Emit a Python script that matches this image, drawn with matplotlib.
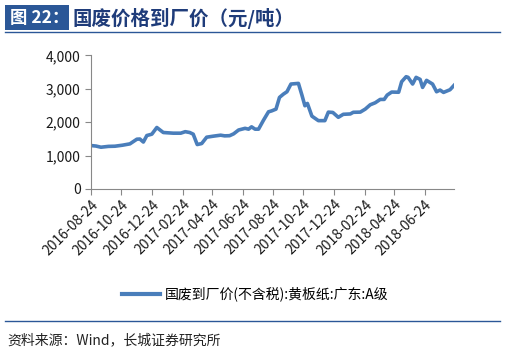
import matplotlib
matplotlib.use("Agg")
import matplotlib.pyplot as plt
import pandas as pd

plt.rcParams['font.family'] = ['Noto Sans CJK SC', 'DejaVu Sans']

# 国废到厂价(不含税):黄板纸:广东:A级, 元/吨
dates = ["2016-08-24", "2016-09-03", "2016-09-13", "2016-09-28", "2016-10-11",
         "2016-10-26", "2016-11-10", "2016-11-24", "2016-11-30", "2016-12-07",
         "2016-12-14", "2016-12-24", "2017-01-03", "2017-01-16", "2017-02-05",
         "2017-02-20", "2017-03-01", "2017-03-10", "2017-03-17", "2017-03-25",
         "2017-04-03", "2017-04-13", "2017-04-26", "2017-05-11", "2017-05-19",
         "2017-05-29", "2017-06-06", "2017-06-16", "2017-06-29", "2017-07-06",
         "2017-07-12", "2017-07-19", "2017-07-26", "2017-08-05", "2017-08-15",
         "2017-08-21", "2017-08-30", "2017-09-06", "2017-09-14", "2017-09-21",
         "2017-09-29", "2017-10-14", "2017-10-21", "2017-10-27", "2017-11-01",
         "2017-11-10", "2017-11-23", "2017-12-06", "2017-12-13", "2017-12-22",
         "2018-01-02", "2018-01-12", "2018-01-26", "2018-02-01", "2018-02-15",
         "2018-02-25", "2018-03-07", "2018-03-17", "2018-03-27", "2018-04-04",
         "2018-04-10", "2018-04-19", "2018-05-03", "2018-05-09", "2018-05-18",
         "2018-05-22", "2018-05-31", "2018-06-07", "2018-06-15", "2018-06-20",
         "2018-06-28", "2018-07-10", "2018-07-18", "2018-07-25", "2018-08-01",
         "2018-08-14", "2018-08-22"]
prices = [1300, 1285, 1250, 1275, 1280,
          1310, 1350, 1490, 1495, 1405,
          1600, 1640, 1840, 1690, 1670,
          1670, 1715, 1690, 1640, 1330,
          1360, 1550, 1580, 1610, 1590,
          1595, 1650, 1765, 1815, 1790,
          1860, 1790, 1790, 2060, 2310,
          2335, 2390, 2740, 2840, 2910,
          3140, 3160, 2810, 2490, 2560,
          2180, 2045, 2045, 2300, 2290,
          2145, 2235, 2245, 2295, 2300,
          2390, 2520, 2580, 2680, 2680,
          2810, 2900, 2895, 3210, 3360,
          3340, 3140, 3340, 3280, 3040,
          3250, 3140, 2910, 2960, 2890,
          2970, 3100]
tick_dates = ["2016-08-24", "2016-10-24", "2016-12-24", "2017-02-24",
              "2017-04-24", "2017-06-24", "2017-08-24", "2017-10-24",
              "2017-12-24", "2018-02-24", "2018-04-24", "2018-06-24"]

title_tag = "图 22："
title_text = "国废价格到厂价（元/吨）"
series_name = "国废到厂价(不含税):黄板纸:广东:A级"
source_text = "资料来源：Wind，长城证券研究所"

x = pd.to_datetime(dates)
ticks = pd.to_datetime(tick_dates)

W, H = 508, 358
fig = plt.figure(figsize=(W / 100, H / 100), dpi=100)
ax = fig.add_axes([91 / W, 1 - 189 / H, (454 - 91) / W, (189 - 55.3) / H])

line_color = "#4A7EBB"
ax.plot(x, prices, color=line_color, lw=2.6, label=series_name, solid_joinstyle="round")

ax.set_ylim(0, 4000)
ax.set_yticks([0, 1000, 2000, 3000, 4000])
ax.set_yticklabels(["0", "1,000", "2,000", "3,000", "4,000"])
ax.set_xlim(x[0], x[-1])
ax.set_xticks(ticks)
ax.set_xticklabels(tick_dates, rotation=45, ha="right", rotation_mode="anchor")

for s in ["top", "right"]:
    ax.spines[s].set_visible(False)
for s in ["left", "bottom"]:
    ax.spines[s].set_color("#888888")
    ax.spines[s].set_linewidth(0.8)
ax.tick_params(axis="both", colors="#888888", labelcolor="#1a1a1a", labelsize=10, length=4, width=0.8)
ax.tick_params(axis="x", labelsize=10, pad=2)

leg = fig.legend(loc="center", bbox_to_anchor=(255 / W, 1 - 294 / H), frameon=False,
                 fontsize=10, handlelength=2.7, handletextpad=0.35)
leg.get_lines()[0].set_linewidth(3)

# header: blue tag box, title, rule
fig.add_artist(plt.Rectangle((5 / W, 1 - 30 / H), 64 / W, 25 / H, transform=fig.transFigure,
                             facecolor="#2B5797", edgecolor="none"))
fig.text(10 / W, 1 - 18 / H, title_tag, fontsize=12.5, fontweight="bold", color="white",
         va="center", ha="left")
fig.text(72 / W, 1 - 18 / H, title_text, fontsize=14, fontweight="bold", color="#1F3C7A",
         va="center", ha="left")
fig.add_artist(plt.Line2D([5 / W, 500 / W], [1 - 32 / H] * 2, color="#2B5797", lw=1))

# footer
fig.add_artist(plt.Line2D([5 / W, 500 / W], [1 - 321 / H] * 2, color="#2B5797", lw=1))
fig.text(7 / W, 1 - 340 / H, source_text, fontsize=10, style="italic", color="#222222",
         va="center", ha="left")

fig.savefig("out.png", dpi=100)
